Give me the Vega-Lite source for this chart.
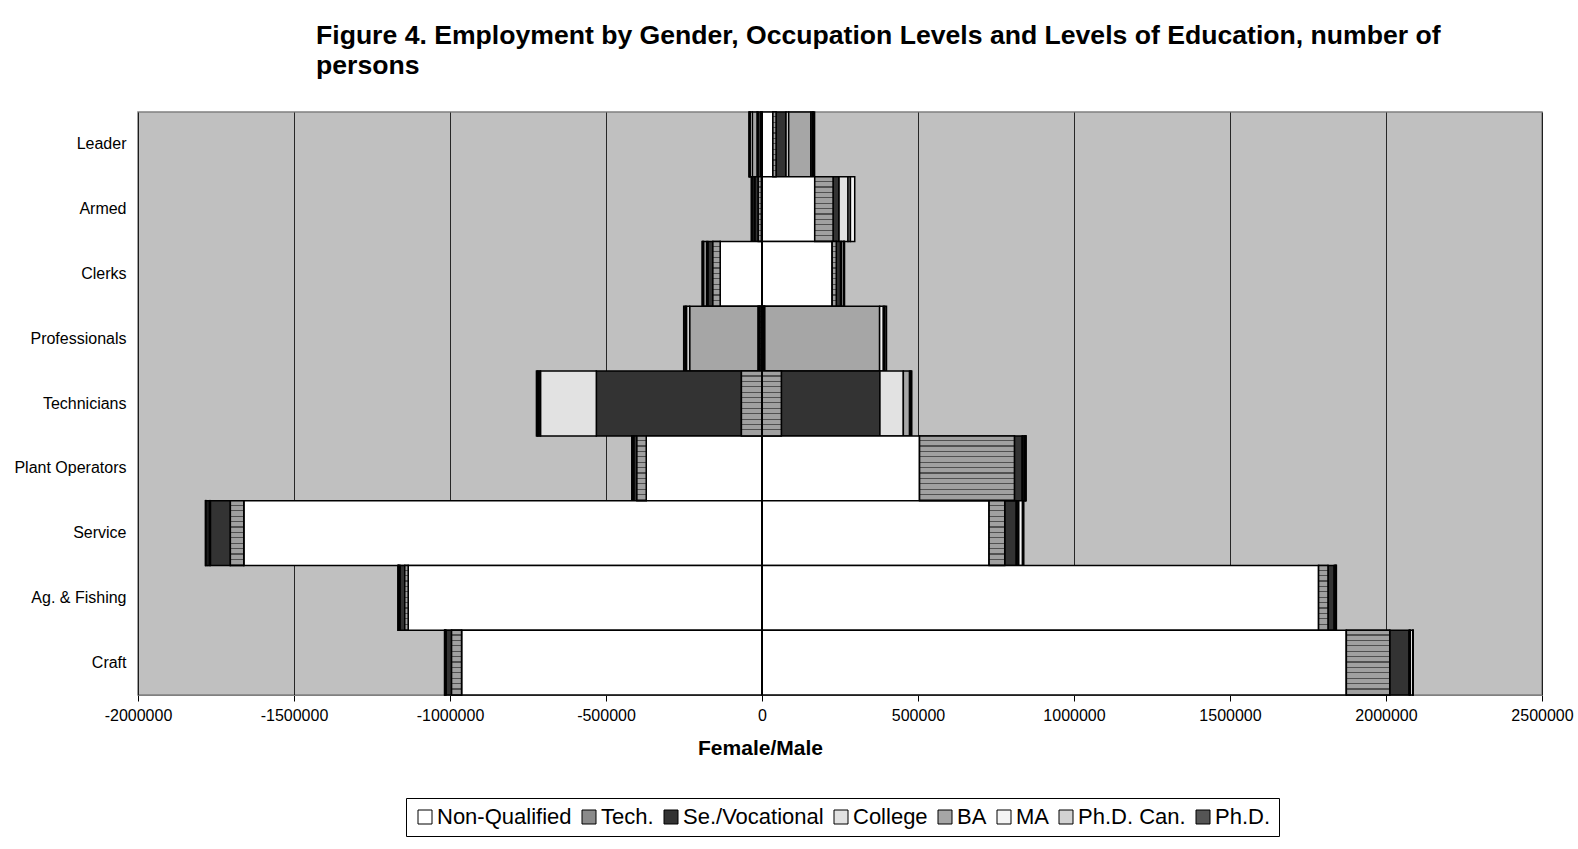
{
  "$schema": "https://vega.github.io/schema/vega-lite/v6.json",
  "width": 1404,
  "height": 583,
  "autosize": "none",
  "padding": {"left": 138, "top": 112, "right": 36, "bottom": 154},
  "background": "white",
  "title": {
    "text": ["Figure 4. Employment by Gender, Occupation Levels and Levels of Education, number of", "persons"],
    "anchor": "start",
    "frame": "group",
    "dx": 178,
    "font": "Liberation Sans",
    "fontSize": 26.6,
    "fontWeight": "bold",
    "lineHeight": 30,
    "offset": 31,
    "color": "#000000"
  },
  "config": {
    "font": "Liberation Sans",
    "view": {"fill": "#c0c0c0", "stroke": "#808080", "strokeWidth": 1.5}
  },
  "data": {
    "values": [
      {"occ": "Leader", "edu": "Tech.", "o": 2, "v": -4000},
      {"occ": "Leader", "edu": "Se./Vocational", "o": 3, "v": -9000},
      {"occ": "Leader", "edu": "College", "o": 4, "v": -3000},
      {"occ": "Leader", "edu": "BA", "o": 5, "v": -15000},
      {"occ": "Leader", "edu": "MA", "o": 6, "v": -7000},
      {"occ": "Leader", "edu": "Ph.D. Can.", "o": 7, "v": -2000},
      {"occ": "Leader", "edu": "Ph.D.", "o": 8, "v": -2000},
      {"occ": "Leader", "edu": "Non-Qualified", "o": 1, "v": 35000},
      {"occ": "Leader", "edu": "Tech.", "o": 2, "v": 10000},
      {"occ": "Leader", "edu": "Se./Vocational", "o": 3, "v": 32000},
      {"occ": "Leader", "edu": "College", "o": 4, "v": 8500},
      {"occ": "Leader", "edu": "BA", "o": 5, "v": 71000},
      {"occ": "Leader", "edu": "MA", "o": 6, "v": 5000},
      {"occ": "Leader", "edu": "Ph.D. Can.", "o": 7, "v": 3000},
      {"occ": "Leader", "edu": "Ph.D.", "o": 8, "v": 4000},

      {"occ": "Armed", "edu": "Non-Qualified", "o": 1, "v": -2000},
      {"occ": "Armed", "edu": "Tech.", "o": 2, "v": -10000},
      {"occ": "Armed", "edu": "Se./Vocational", "o": 3, "v": -11000},
      {"occ": "Armed", "edu": "College", "o": 4, "v": -3000},
      {"occ": "Armed", "edu": "BA", "o": 5, "v": -6000},
      {"occ": "Armed", "edu": "MA", "o": 6, "v": -1000},
      {"occ": "Armed", "edu": "Ph.D. Can.", "o": 7, "v": -500},
      {"occ": "Armed", "edu": "Ph.D.", "o": 8, "v": -500},
      {"occ": "Armed", "edu": "Non-Qualified", "o": 1, "v": 169000},
      {"occ": "Armed", "edu": "Tech.", "o": 2, "v": 58700},
      {"occ": "Armed", "edu": "Se./Vocational", "o": 3, "v": 19200},
      {"occ": "Armed", "edu": "College", "o": 4, "v": 28800},
      {"occ": "Armed", "edu": "BA", "o": 5, "v": 7700},
      {"occ": "Armed", "edu": "MA", "o": 6, "v": 13800},

      {"occ": "Clerks", "edu": "Non-Qualified", "o": 1, "v": -134000},
      {"occ": "Clerks", "edu": "Tech.", "o": 2, "v": -23500},
      {"occ": "Clerks", "edu": "Se./Vocational", "o": 3, "v": -16000},
      {"occ": "Clerks", "edu": "College", "o": 4, "v": -4000},
      {"occ": "Clerks", "edu": "BA", "o": 5, "v": -10000},
      {"occ": "Clerks", "edu": "MA", "o": 6, "v": -2000},
      {"occ": "Clerks", "edu": "Ph.D. Can.", "o": 7, "v": -1000},
      {"occ": "Clerks", "edu": "Ph.D.", "o": 8, "v": -1500},
      {"occ": "Clerks", "edu": "Non-Qualified", "o": 1, "v": 225000},
      {"occ": "Clerks", "edu": "Tech.", "o": 2, "v": 13000},
      {"occ": "Clerks", "edu": "Se./Vocational", "o": 3, "v": 14000},
      {"occ": "Clerks", "edu": "College", "o": 4, "v": 3000},
      {"occ": "Clerks", "edu": "BA", "o": 5, "v": 7000},
      {"occ": "Clerks", "edu": "MA", "o": 6, "v": 1000},
      {"occ": "Clerks", "edu": "Ph.D. Can.", "o": 7, "v": 500},
      {"occ": "Clerks", "edu": "Ph.D.", "o": 8, "v": 1000},

      {"occ": "Professionals", "edu": "Non-Qualified", "o": 1, "v": -3000},
      {"occ": "Professionals", "edu": "Tech.", "o": 2, "v": -5000},
      {"occ": "Professionals", "edu": "Se./Vocational", "o": 3, "v": -3000},
      {"occ": "Professionals", "edu": "College", "o": 4, "v": -2000},
      {"occ": "Professionals", "edu": "BA", "o": 5, "v": -219000},
      {"occ": "Professionals", "edu": "MA", "o": 6, "v": -10000},
      {"occ": "Professionals", "edu": "Ph.D. Can.", "o": 7, "v": -4000},
      {"occ": "Professionals", "edu": "Ph.D.", "o": 8, "v": -5000},
      {"occ": "Professionals", "edu": "Non-Qualified", "o": 1, "v": 3000},
      {"occ": "Professionals", "edu": "Tech.", "o": 2, "v": 3000},
      {"occ": "Professionals", "edu": "Se./Vocational", "o": 3, "v": 2000},
      {"occ": "Professionals", "edu": "College", "o": 4, "v": 1000},
      {"occ": "Professionals", "edu": "BA", "o": 5, "v": 368000},
      {"occ": "Professionals", "edu": "MA", "o": 6, "v": 12000},
      {"occ": "Professionals", "edu": "Ph.D. Can.", "o": 7, "v": 4000},
      {"occ": "Professionals", "edu": "Ph.D.", "o": 8, "v": 6000},

      {"occ": "Technicians", "edu": "Tech.", "o": 2, "v": -66000},
      {"occ": "Technicians", "edu": "Se./Vocational", "o": 3, "v": -465000},
      {"occ": "Technicians", "edu": "College", "o": 4, "v": -179000},
      {"occ": "Technicians", "edu": "BA", "o": 5, "v": -5000},
      {"occ": "Technicians", "edu": "MA", "o": 6, "v": -4000},
      {"occ": "Technicians", "edu": "Ph.D. Can.", "o": 7, "v": -2000},
      {"occ": "Technicians", "edu": "Ph.D.", "o": 8, "v": -2000},
      {"occ": "Technicians", "edu": "Tech.", "o": 2, "v": 62000},
      {"occ": "Technicians", "edu": "Se./Vocational", "o": 3, "v": 316000},
      {"occ": "Technicians", "edu": "College", "o": 4, "v": 75000},
      {"occ": "Technicians", "edu": "BA", "o": 5, "v": 20000},
      {"occ": "Technicians", "edu": "MA", "o": 6, "v": 3000},
      {"occ": "Technicians", "edu": "Ph.D. Can.", "o": 7, "v": 2000},
      {"occ": "Technicians", "edu": "Ph.D.", "o": 8, "v": 2000},

      {"occ": "Plant Operators", "edu": "Non-Qualified", "o": 1, "v": -371000},
      {"occ": "Plant Operators", "edu": "Tech.", "o": 2, "v": -30000},
      {"occ": "Plant Operators", "edu": "Se./Vocational", "o": 3, "v": -10000},
      {"occ": "Plant Operators", "edu": "College", "o": 4, "v": -2000},
      {"occ": "Plant Operators", "edu": "BA", "o": 5, "v": -2000},
      {"occ": "Plant Operators", "edu": "MA", "o": 6, "v": -1000},
      {"occ": "Plant Operators", "edu": "Ph.D. Can.", "o": 7, "v": -500},
      {"occ": "Plant Operators", "edu": "Ph.D.", "o": 8, "v": -500},
      {"occ": "Plant Operators", "edu": "Non-Qualified", "o": 1, "v": 505000},
      {"occ": "Plant Operators", "edu": "Tech.", "o": 2, "v": 304000},
      {"occ": "Plant Operators", "edu": "Se./Vocational", "o": 3, "v": 25000},
      {"occ": "Plant Operators", "edu": "College", "o": 4, "v": 3000},
      {"occ": "Plant Operators", "edu": "BA", "o": 5, "v": 5000},
      {"occ": "Plant Operators", "edu": "MA", "o": 6, "v": 2000},
      {"occ": "Plant Operators", "edu": "Ph.D. Can.", "o": 7, "v": 1000},
      {"occ": "Plant Operators", "edu": "Ph.D.", "o": 8, "v": 1500},

      {"occ": "Service", "edu": "Non-Qualified", "o": 1, "v": -1661000},
      {"occ": "Service", "edu": "Tech.", "o": 2, "v": -43000},
      {"occ": "Service", "edu": "Se./Vocational", "o": 3, "v": -64000},
      {"occ": "Service", "edu": "College", "o": 4, "v": -2000},
      {"occ": "Service", "edu": "BA", "o": 5, "v": -6000},
      {"occ": "Service", "edu": "MA", "o": 6, "v": -6000},
      {"occ": "Service", "edu": "Ph.D. Can.", "o": 7, "v": -1000},
      {"occ": "Service", "edu": "Ph.D.", "o": 8, "v": -1000},
      {"occ": "Service", "edu": "Non-Qualified", "o": 1, "v": 728000},
      {"occ": "Service", "edu": "Tech.", "o": 2, "v": 50000},
      {"occ": "Service", "edu": "Se./Vocational", "o": 3, "v": 37000},
      {"occ": "Service", "edu": "College", "o": 4, "v": 3000},
      {"occ": "Service", "edu": "BA", "o": 5, "v": 5000},
      {"occ": "Service", "edu": "MA", "o": 6, "v": 12000},
      {"occ": "Service", "edu": "Ph.D. Can.", "o": 7, "v": 2000},
      {"occ": "Service", "edu": "Ph.D.", "o": 8, "v": 2000},

      {"occ": "Ag. & Fishing", "edu": "Non-Qualified", "o": 1, "v": -1134000},
      {"occ": "Ag. & Fishing", "edu": "Tech.", "o": 2, "v": -11000},
      {"occ": "Ag. & Fishing", "edu": "Se./Vocational", "o": 3, "v": -15000},
      {"occ": "Ag. & Fishing", "edu": "College", "o": 4, "v": -2000},
      {"occ": "Ag. & Fishing", "edu": "BA", "o": 5, "v": -3000},
      {"occ": "Ag. & Fishing", "edu": "MA", "o": 6, "v": -500},
      {"occ": "Ag. & Fishing", "edu": "Ph.D. Can.", "o": 7, "v": -500},
      {"occ": "Ag. & Fishing", "edu": "Ph.D.", "o": 8, "v": -500},
      {"occ": "Ag. & Fishing", "edu": "Non-Qualified", "o": 1, "v": 1784000},
      {"occ": "Ag. & Fishing", "edu": "Tech.", "o": 2, "v": 30000},
      {"occ": "Ag. & Fishing", "edu": "Se./Vocational", "o": 3, "v": 20000},
      {"occ": "Ag. & Fishing", "edu": "College", "o": 4, "v": 2000},
      {"occ": "Ag. & Fishing", "edu": "BA", "o": 5, "v": 3000},
      {"occ": "Ag. & Fishing", "edu": "MA", "o": 6, "v": 500},
      {"occ": "Ag. & Fishing", "edu": "Ph.D. Can.", "o": 7, "v": 500},
      {"occ": "Ag. & Fishing", "edu": "Ph.D.", "o": 8, "v": 1000},

      {"occ": "Craft", "edu": "Non-Qualified", "o": 1, "v": -963000},
      {"occ": "Craft", "edu": "Tech.", "o": 2, "v": -32000},
      {"occ": "Craft", "edu": "Se./Vocational", "o": 3, "v": -18000},
      {"occ": "Craft", "edu": "College", "o": 4, "v": -1000},
      {"occ": "Craft", "edu": "BA", "o": 5, "v": -2000},
      {"occ": "Craft", "edu": "MA", "o": 6, "v": -500},
      {"occ": "Craft", "edu": "Ph.D. Can.", "o": 7, "v": -500},
      {"occ": "Craft", "edu": "Ph.D.", "o": 8, "v": -500},
      {"occ": "Craft", "edu": "Non-Qualified", "o": 1, "v": 1873000},
      {"occ": "Craft", "edu": "Tech.", "o": 2, "v": 139000},
      {"occ": "Craft", "edu": "Se./Vocational", "o": 3, "v": 62000},
      {"occ": "Craft", "edu": "College", "o": 4, "v": 2000},
      {"occ": "Craft", "edu": "BA", "o": 5, "v": 2000},
      {"occ": "Craft", "edu": "MA", "o": 6, "v": 8000},
      {"occ": "Craft", "edu": "Ph.D. Can.", "o": 7, "v": 500},
      {"occ": "Craft", "edu": "Ph.D.", "o": 8, "v": 500}
    ]
  },
  "transform": [
    {"stack": "v", "groupby": ["occ"], "sort": [{"field": "o", "order": "ascending"}], "offset": "zero", "as": ["x0", "x1"]}
  ],
  "encoding": {
    "y": {
      "field": "occ",
      "type": "nominal",
      "sort": ["Leader", "Armed", "Clerks", "Professionals", "Technicians", "Plant Operators", "Service", "Ag. & Fishing", "Craft"],
      "scale": {"paddingInner": 0, "paddingOuter": 0},
      "axis": {"title": null, "labelFontSize": 16, "labelPadding": 12, "ticks": false, "domain": false, "labelColor": "#000000"}
    },
    "x": {
      "field": "x0",
      "type": "quantitative",
      "scale": {"domain": [-2000000, 2500000], "nice": false, "zero": false},
      "axis": {
        "values": [-2000000, -1500000, -1000000, -500000, 0, 500000, 1000000, 1500000, 2000000, 2500000],
        "labelExpr": "'' + datum.value",
        "labelFlush": false,
        "labelOverlap": false,
        "title": "Female/Male",
        "titleFontSize": 21,
        "titleFontWeight": "bold",
        "titleColor": "#000000",
        "titleX": 622,
        "titleAlign": "center",
        "titlePadding": 14,
        "labelFontSize": 16,
        "labelColor": "#000000",
        "labelPadding": 6,
        "tickSize": 6,
        "tickColor": "#000000",
        "domainColor": "#808080",
        "grid": true,
        "gridColor": "#000000",
        "gridWidth": 1,
        "gridOpacity": 0.8
      }
    },
    "x2": {"field": "x1"}
  },
  "layer": [
    {
      "mark": {"type": "bar", "stroke": "#000000", "strokeWidth": 1.5},
      "encoding": {
        "color": {
          "field": "edu",
          "type": "nominal",
          "scale": {
            "domain": ["Non-Qualified", "Tech.", "Se./Vocational", "College", "BA", "MA", "Ph.D. Can.", "Ph.D."],
            "range": ["#ffffff", "#8a8a8a", "#333333", "#e2e2e2", "#a6a6a6", "#f4f4f4", "#d2d2d2", "#555555"]
          },
          "legend": {
            "title": null,
            "orient": "none",
            "legendX": 268,
            "legendY": 686,
            "direction": "horizontal",
            "symbolType": "square",
            "symbolSize": 196,
            "symbolStrokeColor": "#000000",
            "symbolStrokeWidth": 1,
            "labelFontSize": 22,
            "labelColor": "#000000",
            "labelOffset": 1,
            "columnPadding": 6,
            "strokeColor": "#000000",
            "padding": 8
          }
        }
      }
    },
    {
      "transform": [{"filter": "datum.edu === 'Tech.'"}],
      "mark": {
        "type": "bar",
        "stroke": "#000000",
        "strokeWidth": 1.5,
        "fill": {"gradient": "linear", "x1": 0, "y1": 0, "x2": 0, "y2": 1, "stops": [
          {"offset": 0, "color": "#a0a0a0"}, {"offset": 0.065, "color": "#a0a0a0"}, {"offset": 0.065, "color": "#505050"}, {"offset": 0.0833, "color": "#505050"},
          {"offset": 0.0833, "color": "#a0a0a0"}, {"offset": 0.1483, "color": "#a0a0a0"}, {"offset": 0.1483, "color": "#505050"}, {"offset": 0.1667, "color": "#505050"},
          {"offset": 0.1667, "color": "#a0a0a0"}, {"offset": 0.2317, "color": "#a0a0a0"}, {"offset": 0.2317, "color": "#505050"}, {"offset": 0.25, "color": "#505050"},
          {"offset": 0.25, "color": "#a0a0a0"}, {"offset": 0.315, "color": "#a0a0a0"}, {"offset": 0.315, "color": "#505050"}, {"offset": 0.3333, "color": "#505050"},
          {"offset": 0.3333, "color": "#a0a0a0"}, {"offset": 0.3983, "color": "#a0a0a0"}, {"offset": 0.3983, "color": "#505050"}, {"offset": 0.4167, "color": "#505050"},
          {"offset": 0.4167, "color": "#a0a0a0"}, {"offset": 0.4817, "color": "#a0a0a0"}, {"offset": 0.4817, "color": "#505050"}, {"offset": 0.5, "color": "#505050"},
          {"offset": 0.5, "color": "#a0a0a0"}, {"offset": 0.565, "color": "#a0a0a0"}, {"offset": 0.565, "color": "#505050"}, {"offset": 0.5833, "color": "#505050"},
          {"offset": 0.5833, "color": "#a0a0a0"}, {"offset": 0.6483, "color": "#a0a0a0"}, {"offset": 0.6483, "color": "#505050"}, {"offset": 0.6667, "color": "#505050"},
          {"offset": 0.6667, "color": "#a0a0a0"}, {"offset": 0.7317, "color": "#a0a0a0"}, {"offset": 0.7317, "color": "#505050"}, {"offset": 0.75, "color": "#505050"},
          {"offset": 0.75, "color": "#a0a0a0"}, {"offset": 0.815, "color": "#a0a0a0"}, {"offset": 0.815, "color": "#505050"}, {"offset": 0.8333, "color": "#505050"},
          {"offset": 0.8333, "color": "#a0a0a0"}, {"offset": 0.8983, "color": "#a0a0a0"}, {"offset": 0.8983, "color": "#505050"}, {"offset": 0.9167, "color": "#505050"},
          {"offset": 0.9167, "color": "#a0a0a0"}, {"offset": 0.9817, "color": "#a0a0a0"}, {"offset": 0.9817, "color": "#505050"}, {"offset": 1, "color": "#505050"}
        ]}
      }
    },
    {
      "data": {"values": [{"z": 0}]},
      "mark": {"type": "rule", "color": "#000000", "strokeWidth": 2},
      "encoding": {"x": {"field": "z", "type": "quantitative"}, "x2": null, "y": null}
    }
  ]
}
